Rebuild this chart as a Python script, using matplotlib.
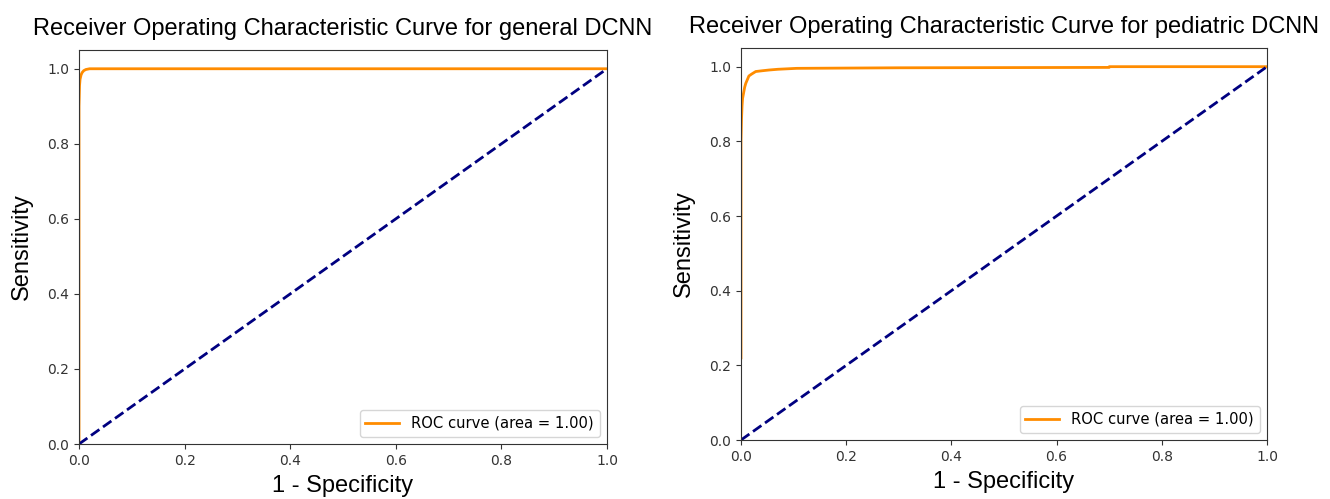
import matplotlib
matplotlib.use("Agg")
import matplotlib.pyplot as plt

# ROC curve for general DCNN (false positive rate = 1 - specificity, true positive rate = sensitivity)
general_fpr = [0.0, 0.0, 0.001, 0.002, 0.004, 0.006, 0.009, 0.013, 0.02, 1.0]
general_tpr = [0.0, 0.90, 0.955, 0.972, 0.984, 0.990, 0.995, 0.998, 1.0, 1.0]

# ROC curve for pediatric DCNN
pediatric_fpr = [0.0, 0.0, 0.001, 0.002, 0.003, 0.005, 0.007, 0.009, 0.012, 0.015, 0.02,
                 0.028, 0.04, 0.053, 0.07, 0.106, 0.3, 0.70, 0.70, 1.0]
pediatric_tpr = [0.22, 0.80, 0.86, 0.895, 0.915, 0.93, 0.945, 0.955, 0.965, 0.975, 0.98,
                 0.987, 0.989, 0.991, 0.993, 0.9955, 0.997, 0.998, 1.0, 1.0]

chance = [0.0, 1.0]

legend_label = "ROC curve (area = 1.00)"
titles = ["Receiver Operating Characteristic Curve for general DCNN",
          "Receiver Operating Characteristic Curve for pediatric DCNN"]
xlabel = "1 - Specificity"
ylabel = "Sensitivity"
ticks = [0.0, 0.2, 0.4, 0.6, 0.8, 1.0]

fig = plt.figure(figsize=(13.3, 4.99), dpi=100)
ax1 = fig.add_axes([79/1330, 55/499, 528/1330, 394/499])
ax2 = fig.add_axes([741/1330, 59/499, 526/1330, 392/499])

label_font = dict(family=["Liberation Sans", "DejaVu Sans"], size=17)

for ax, fpr, tpr, title in [(ax1, general_fpr, general_tpr, titles[0]),
                            (ax2, pediatric_fpr, pediatric_tpr, titles[1])]:
    ax.plot(fpr, tpr, color="darkorange", lw=2, label=legend_label)
    ax.plot(chance, chance, color="navy", lw=2, linestyle="--")
    ax.set_xlim(0.0, 1.0)
    ax.set_ylim(0.0, 1.05)
    ax.set_xticks(ticks)
    ax.set_yticks(ticks)
    ax.tick_params(labelsize=10, colors="#333333")
    for s in ax.spines.values():
        s.set_color("#333333")
    ax.set_title(title, fontdict=label_font, pad=11)
    ax.set_xlabel(xlabel, fontdict=label_font, labelpad=5)
    ax.set_ylabel(ylabel, fontdict=label_font, labelpad=10)
    ax.legend(loc="lower right", fontsize=10.6, handlelength=2.3)

fig.savefig("out.png", dpi=100)
